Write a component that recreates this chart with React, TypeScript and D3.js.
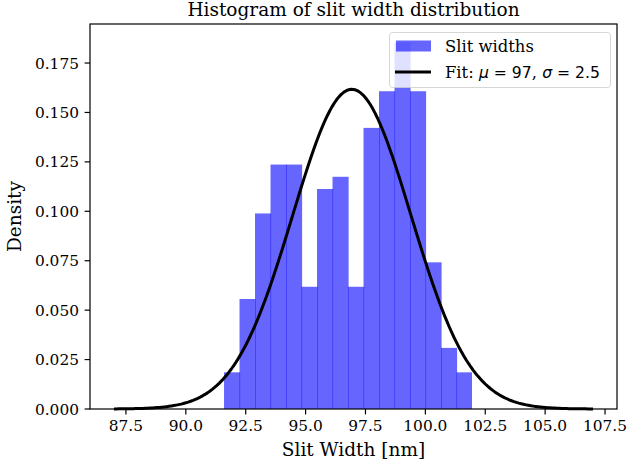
import React from "react";
import * as d3 from "d3";

// ---- data ----
const binStart = 91.595;
const binWidth = 0.647;
const binCounts = [3, 9, 16, 20, 20, 10, 18, 19, 10, 23, 26, 30, 26, 12, 5, 3];
const fitMu = 96.93;
const fitSigma = 2.467;
const fitRange = [87, 107];
const xTicks = [87.5, 90, 92.5, 95, 97.5, 100, 102.5, 105, 107.5];
const yTicks = [0, 0.025, 0.05, 0.075, 0.1, 0.125, 0.15, 0.175];
const titleText = "Histogram of slit width distribution";
const xLabel = "Slit Width [nm]";
const yLabel = "Density";
const legendLabels = ["Slit widths"];

const W = 631;
const H = 466;
const M = { left: 90, right: 617, top: 24, bottom: 409 };
const FONT = "DejaVu Serif";
const SANS = "DejaVu Sans";
const FS = 15.4;
const LFS = 18.5;
const LEG = 16.4;
const MATH = 15.6;

export default function App() {
  const total = d3.sum(binCounts);
  const bins = binCounts.map((c, i) => ({
    x0: binStart + i * binWidth,
    x1: binStart + (i + 1) * binWidth,
    density: c / (total * binWidth),
  }));
  const maxD = d3.max(bins, (b) => b.density) as number;

  const x = d3.scaleLinear().domain([86, 108]).range([M.left, M.right]);
  const y = d3.scaleLinear().domain([0, maxD * 1.05]).range([M.bottom, M.top]);

  const fitXs = d3.range(0, 201).map((i) => fitRange[0] + (i * (fitRange[1] - fitRange[0])) / 200);
  const pdf = (v: number) =>
    Math.exp(-0.5 * ((v - fitMu) / fitSigma) ** 2) / (fitSigma * Math.sqrt(2 * Math.PI));
  const line = d3
    .line<number>()
    .x((v) => x(v))
    .y((v) => y(pdf(v)));

  const tickLen = 5.4;
  const fmtX = d3.format(".1f");
  const fmtY = d3.format(".3f");

  return (
    <svg width={W} height={H} style={{ display: "block", position: "absolute", left: 0, top: 0 }}>
      <rect x={0} y={0} width={W} height={H} fill="white" />
      {/* bars */}
      {bins.map((b, i) => (
        <rect
          key={i}
          x={x(b.x0)}
          y={y(b.density)}
          width={x(b.x1) - x(b.x0) + (i < bins.length - 1 ? 0.6 : 0)}
          height={y(0) - y(b.density)}
          fill="blue"
          fillOpacity={0.6}
        />
      ))}
      {/* fit */}
      <path d={line(fitXs) || ""} fill="none" stroke="black" strokeWidth={3} strokeLinejoin="round" />

      {/* frame */}
      <rect
        x={M.left}
        y={M.top}
        width={M.right - M.left}
        height={M.bottom - M.top}
        fill="none"
        stroke="black"
        strokeWidth={1.2}
      />
      {/* x ticks */}
      {xTicks.map((t) => (
        <g key={"x" + t}>
          <line x1={x(t)} x2={x(t)} y1={M.bottom} y2={M.bottom + tickLen} stroke="black" strokeWidth={1.2} />
          <text x={x(t)} y={431} textAnchor="middle" fontFamily={FONT} fontSize={FS} fill="black">
            {fmtX(t)}
          </text>
        </g>
      ))}
      {/* y ticks */}
      {yTicks.map((t) => (
        <g key={"y" + t}>
          <line x1={M.left - tickLen} x2={M.left} y1={y(t)} y2={y(t)} stroke="black" strokeWidth={1.2} />
          <text x={79} y={y(t) + 5.5} textAnchor="end" fontFamily={FONT} fontSize={FS} fill="black">
            {fmtY(t)}
          </text>
        </g>
      ))}
      {/* labels */}
      <text x={(M.left + M.right) / 2} y={456} textAnchor="middle" fontFamily={FONT} fontSize={LFS}>
        {xLabel}
      </text>
      <text
        transform={`translate(21,${(M.top + M.bottom) / 2}) rotate(-90)`}
        textAnchor="middle"
        fontFamily={FONT}
        fontSize={LFS}
      >
        {yLabel}
      </text>
      <text x={(M.left + M.right) / 2} y={16} textAnchor="middle" fontFamily={FONT} fontSize={18.5}>
        {titleText}
      </text>

      {/* legend */}
      <rect
        x={389.5}
        y={32.5}
        width={221}
        height={55}
        rx={3}
        fill="white"
        fillOpacity={0.8}
        stroke="#cccccc"
        strokeOpacity={0.8}
        strokeWidth={1}
      />
      <rect x={396} y={40.5} width={35} height={11} fill="blue" fillOpacity={0.6} />
      <line x1={395} x2={431} y1={72} y2={72} stroke="black" strokeWidth={3} />
      <text x={445} y={52} fontFamily={FONT} fontSize={LEG}>
        {legendLabels[0]}
      </text>
      <text x={445} y={78} fontFamily={FONT} fontSize={LEG}>
        Fit:{" "}
        <tspan fontFamily={SANS} fontSize={MATH} fontStyle="italic">μ</tspan>
        <tspan fontFamily={SANS} fontSize={MATH}> = {d3.format(".2g")(fitMu)}</tspan>
        <tspan>, </tspan>
        <tspan fontFamily={SANS} fontSize={MATH} fontStyle="italic">σ</tspan>
        <tspan fontFamily={SANS} fontSize={MATH}> = {d3.format(".2g")(fitSigma)}</tspan>
      </text>
    </svg>
  );
}
